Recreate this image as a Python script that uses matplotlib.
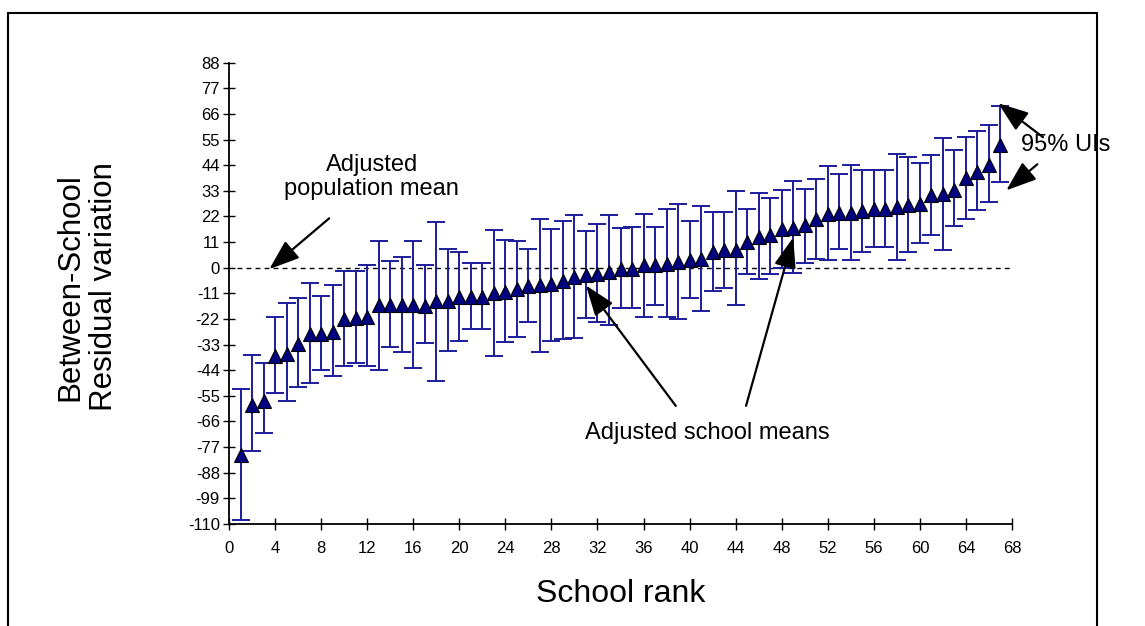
import matplotlib.pyplot as plt
from matplotlib.patches import Rectangle

# school rank and residual estimates with 95% uncertainty intervals
rank = list(range(1, 68))
school_mean = [-80.3, -58.8, -57.1, -38.0, -37.0, -32.7, -28.4, -28.4, -27.4, -21.9,
               -21.6, -21.0, -16.0, -16.0, -16.2, -16.0, -16.3, -14.3, -14.2, -12.5,
               -12.6, -12.6, -11.0, -10.5, -9.0, -8.0, -7.6, -6.9, -5.8, -4.0,
               -3.3, -2.6, -1.9, -0.7, -0.4, 1.0, 1.0, 1.7, 2.4, 3.1,
               3.9, 6.7, 7.4, 7.7, 11.2, 13.0, 13.9, 16.8, 17.2, 18.2,
               21.1, 22.9, 23.7, 23.7, 24.2, 25.1, 25.4, 26.1, 26.8, 27.5,
               31.0, 31.5, 33.2, 38.5, 41.1, 44.2, 52.6]
ui_lower = [-108.4, -78.6, -71.0, -53.8, -57.1, -51.3, -49.6, -43.7, -46.5, -42.3,
            -40.7, -42.0, -43.7, -33.9, -36.2, -43.0, -32.3, -48.5, -35.6, -31.5,
            -26.5, -26.5, -38.0, -32.0, -29.8, -23.1, -36.3, -31.3, -30.5, -30.0,
            -21.7, -23.4, -24.5, -17.5, -17.2, -21.2, -15.8, -21.2, -21.9, -12.9,
            -18.4, -10.2, -8.8, -16.2, -2.6, -4.7, -2.6, 0.0, -2.2, 2.0,
            3.9, 3.4, 7.9, 3.4, 6.7, 8.9, 8.9, 3.3, 6.7, 10.8,
            14.2, 7.4, 17.8, 21.1, 24.6, 28.0, 36.9]
ui_upper = [-52.0, -37.6, -40.9, -21.2, -15.2, -13.1, -6.5, -12.3, -7.6, -1.5,
            -1.5, 1.1, 11.5, 2.8, 4.6, 11.5, 1.3, 19.6, 8.2, 6.9,
            2.0, 2.0, 16.3, 12.0, 11.4, 8.2, 21.1, 16.8, 19.9, 22.5,
            15.6, 18.9, 22.5, 16.9, 17.5, 23.2, 17.5, 25.1, 27.2, 19.9,
            26.4, 23.9, 23.9, 32.8, 25.1, 32.0, 29.9, 33.2, 37.2, 34.0,
            38.0, 43.6, 40.1, 44.3, 42.1, 42.1, 42.1, 49.0, 47.6, 45.0,
            48.3, 55.7, 50.5, 55.9, 58.7, 61.3, 69.6]

x_ticks = list(range(0, 69, 4))
y_ticks = list(range(-110, 89, 11))

plt.rcParams['font.family'] = ['Liberation Sans', 'DejaVu Sans']

fig = plt.figure(figsize=(11.45, 6.26), dpi=100)
ax = fig.add_axes([229 / 1145, 102 / 626, 783 / 1145, 461.3 / 626])

yerr = [[m - lo for m, lo in zip(school_mean, ui_lower)],
        [hi - m for m, hi in zip(school_mean, ui_upper)]]
ax.errorbar(rank, school_mean, yerr=yerr, fmt='none', ecolor='#1c1c9c',
            elinewidth=1.4, capsize=6.5, capthick=1.4, zorder=2)
ax.plot(rank, school_mean, '^', ms=9.5, mfc='#000080', mec='black', mew=0.8, zorder=3)

# population mean reference line
ax.hlines(0, 0.7, 68, colors='black', linestyles=(0, (3.5, 3)), lw=1, zorder=1)

ax.set_xlim(0, 68)
ax.set_ylim(-110, 88)
ax.set_xticks(x_ticks)
ax.set_yticks(y_ticks)
ax.set_xticklabels([str(t) for t in x_ticks], fontsize=12)
ax.set_yticklabels([str(t) for t in y_ticks], fontsize=12)
ax.tick_params(direction='inout', length=9, width=1, colors='black')
ax.tick_params(axis='x', pad=8)
ax.tick_params(axis='y', pad=2)
for side in ('top', 'right'):
    ax.spines[side].set_visible(False)
for side in ('left', 'bottom'):
    ax.spines[side].set_linewidth(1.3)

ax.set_xlabel('School rank', fontsize=23, labelpad=16)
fig.text(87 / 1145, 1 - 287 / 626, 'Between-School\nResidual variation', rotation=90,
         fontsize=22.5, ha='center', va='center', linespacing=1.15)

arrow = dict(arrowstyle='-|>,head_length=1.1,head_width=0.4', mutation_scale=17,
             lw=1.6, color='black', shrinkA=0, shrinkB=0)

ax.text(12.4, 38.8, 'Adjusted\npopulation mean', fontsize=17, ha='center', va='center',
        linespacing=1.1)
ax.annotate('', xy=(3.5, -0.6), xytext=(8.7, 21.2), arrowprops=arrow)

ax.text(41.5, -71, 'Adjusted school means', fontsize=17, ha='center', va='center')
ax.annotate('', xy=(31.0, -7.6), xytext=(38.8, -59.3), arrowprops=arrow)
ax.annotate('', xy=(49.0, 13.0), xytext=(44.9, -59.3), arrowprops=arrow)

ax.text(68.8, 52.6, '95% UIs', fontsize=17, ha='left', va='center', clip_on=False)
ax.annotate('', xy=(66.8, 70.6), xytext=(70.7, 56.0), arrowprops=arrow,
            annotation_clip=False)
ax.annotate('', xy=(67.5, 33.2), xytext=(70.2, 44.4), arrowprops=arrow,
            annotation_clip=False)

# border around the whole chart area
fig.add_artist(Rectangle((8 / 1145, -0.05), 1089 / 1145, 613 / 626 + 0.05,
                         transform=fig.transFigure, fill=False, lw=1.5, ec='black'))

fig.savefig('out.png', dpi=100)
